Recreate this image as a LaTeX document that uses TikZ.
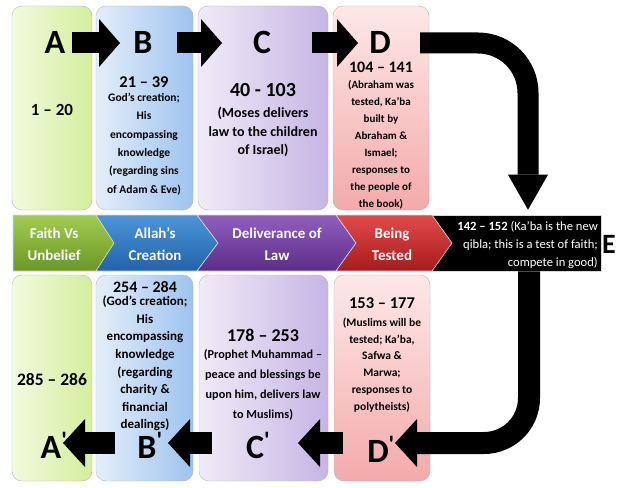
\documentclass[tikz,border=0pt]{standalone}
\usepackage{fontspec}
\setmainfont{Carlito}
\usetikzlibrary{arrows.meta}
\definecolor{greenL}{HTML}{F1FADF}
\definecolor{greenR}{HTML}{D4EE9C}
\definecolor{blueL}{HTML}{E4EEF9}
\definecolor{blueR}{HTML}{9EC3EF}
\definecolor{purpleL}{HTML}{F0EBF7}
\definecolor{purpleR}{HTML}{C6B5E5}
\definecolor{pinkT}{HTML}{FDE8E8}
\definecolor{pinkB}{HTML}{F4AAAA}
\definecolor{gnT}{HTML}{A2CD52}
\definecolor{gnB}{HTML}{6A9625}
\definecolor{blT}{HTML}{4D95D8}
\definecolor{blB}{HTML}{2163AA}
\definecolor{puT}{HTML}{915EBE}
\definecolor{puB}{HTML}{5C2D88}
\definecolor{rdT}{HTML}{E24A4A}
\definecolor{rdB}{HTML}{A61C1C}
\tikzset{
  box/.style={draw=gray!55, rounded corners=10pt, minimum height=#1, inner sep=0pt},
  seg/.style={draw=white!85!black, line width=0.6pt},
  letter/.style={font=\fontsize{34}{34}\selectfont\bfseries, inner sep=0pt,
    text height=22pt, text depth=0pt},
  num/.style={font=\fontsize{#1}{#1}\selectfont\bfseries, inner sep=0pt},
  desc/.style 2 args={font=\fontsize{#1}{#2}\selectfont\bfseries, align=center, inner sep=0pt},
  bandtext/.style={font=\fontsize{15}{22}\selectfont\bfseries, text=white, align=center, inner sep=0pt},
  blk/.style={line width=21pt, -{Triangle[length=21pt, width=48pt, line width=0pt]}},
  blkdown/.style={line width=21pt, -{Triangle[length=35pt, width=40pt, line width=0pt]}},
  blkleft/.style={line width=22pt, -{Triangle[length=22pt, width=48pt, line width=0pt]}},
}
\begin{document}
\begin{tikzpicture}[x=1pt,y=-1pt]
  \useasboundingbox[fill=white] (0,0) rectangle (626,487);
  \node[box=204pt, minimum width=80pt, left color=greenL, right color=greenR] (boxA) at (52,108) {};
  \node[box=204pt, minimum width=97pt, left color=blueL, right color=blueR] (boxB) at (144.5,108) {};
  \node[box=204pt, minimum width=130pt, left color=purpleL, right color=purpleR] (boxC) at (263,108) {};
  \node[box=204pt, minimum width=96pt, top color=pinkT, bottom color=pinkB] (boxD) at (381,108) {};
  \node[box=206pt, minimum width=80pt, left color=greenL, right color=greenR] (boxAp) at (52,378) {};
  \node[box=206pt, minimum width=97pt, left color=blueL, right color=blueR] (boxBp) at (144.5,378) {};
  \node[box=206pt, minimum width=129pt, left color=purpleL, right color=purpleR] (boxCp) at (263.5,378) {};
  \node[box=206pt, minimum width=96pt, top color=pinkT, bottom color=pinkB] (boxDp) at (382,378) {};

  \node[seg, fill=black, minimum width=169pt, minimum height=56pt, inner sep=0pt] (bandE) at (516.5,243) {};
  \path[seg, top color=gnT, bottom color=gnB]
    (13,215) -- (96,215) -- (114,243) -- (96,271) -- (13,271) -- cycle;
  \path[seg, top color=blT, bottom color=blB]
    (96,215) -- (197,215) -- (218,243) -- (197,271) -- (96,271) -- (114,243) -- cycle;
  \path[seg, top color=puT, bottom color=puB]
    (197,215) -- (336,215) -- (356,243) -- (336,271) -- (197,271) -- (218,243) -- cycle;
  \path[seg, top color=rdT, bottom color=rdB]
    (336,215) -- (432,215) -- (452,243) -- (432,271) -- (336,271) -- (356,243) -- cycle;

  \node[bandtext] (tFaith) at (54,244) {Faith Vs\\Unbelief};
  \node[bandtext] (tAllah) at (155,244) {Allah’s\\Creation};
  \node[bandtext] (tLaw) at (277,244) {Deliverance of\\Law};
  \node[bandtext] (tTest) at (392,244) {Being\\Tested};
  \node[font=\fontsize{12.6}{18}\selectfont, text=white, align=right, inner sep=0pt, anchor=east]
    (tE) at (598,245) {\textbf{142 – 152} (Ka’ba is the new\\qibla; this is a test of faith;\\compete in good)};
  \node[letter, font=\fontsize{28}{28}\selectfont\bfseries, text height=18pt] (le) at (609,244) {E};

  \node[num=17] (numA) at (52,110) {1 – 20};
  \node[num=16.5] (numB) at (144,82) {21 – 39};
  \node[desc={11.5}{18.4}] (descB) at (144,144)
    {God’s creation;\\His\\encompassing\\knowledge\\(regarding sins\\of Adam \& Eve)};
  \node[num=20] (numC) at (263,90) {40 - 103};
  \node[desc={14}{18.5}] (descC) at (263,132) {(Moses delivers\\law to the children\\of Israel)};
  \node[num=16] (numD) at (381,67) {104 – 141};
  \node[desc={11}{17}] (descD) at (381,144.5)
    {(Abraham was\\tested, Ka’ba\\built by\\Abraham \&\\Ismael;\\responses to\\the people of\\the book)};

  \node[num=17.5] (numAp) at (52,380) {285 – 286};
  \node[num=16] (numBp) at (145,287) {254 – 284};
  \node[desc={13}{17.6}] (descBp) at (145,363.5)
    {(God’s creation;\\His\\encompassing\\knowledge\\(regarding\\charity \&\\financial\\dealings)};
  \node[num=18] (numCp) at (263,335) {178 – 253};
  \node[desc={12.2}{20}] (descCp) at (263,385)
    {(Prophet Muhammad –\\peace and blessings be\\upon him, delivers law\\to Muslims)};
  \node[num=16.5] (numDp) at (382,303) {153 – 177};
  \node[desc={11.5}{16.8}] (descDp) at (382,365)
    {(Muslims will be\\tested; Ka’ba,\\Safwa \&\\Marwa;\\responses to\\polytheists)};

  \node[letter] (la) at (55,43) {A};
  \node[letter] (lb) at (143,43) {B};
  \node[letter] (lc) at (262,43) {C};
  \node[letter] (ld) at (380,43) {D};
  \node[letter] (lap) at (51,447) {A\rlap{\textsuperscript{\textquotesingle}}};
  \node[letter] (lbp) at (147,447) {B\rlap{\textsuperscript{\textquotesingle}}};
  \node[letter] (lcp) at (255,447) {C\rlap{\textsuperscript{\textquotesingle}}};
  \node[letter] (ldp) at (378,451) {D\rlap{\textsuperscript{\textquotesingle}}};

  \draw[blk] ([xshift=17pt]la.center) -- ([xshift=-23pt]lb.center);
  \draw[blk] ([xshift=34pt]lb.center) -- ([xshift=-40pt]lc.center);
  \draw[blk] ([xshift=50pt]lc.center) -- ([xshift=-22pt]ld.center);
  \draw[blkdown, rounded corners=50pt]
    ([xshift=40pt]ld.center) -| ([xshift=11.5pt,yshift=5pt]bandE.north);
  \draw[blkleft, rounded corners=45pt]
    ([xshift=12.5pt]bandE.south) |- ([xshift=17pt,yshift=8pt]ldp.center);
  \draw[blkleft] ([xshift=-35pt,yshift=8pt]ldp.center) -- ([xshift=43pt,yshift=4pt]lcp.center);
  \draw[blkleft] ([xshift=-43pt,yshift=4pt]lcp.center) -- ([xshift=21pt,yshift=4pt]lbp.center);
  \draw[blkleft] ([xshift=-32pt,yshift=4pt]lbp.center) -- ([xshift=12pt,yshift=4pt]lap.center);
\end{tikzpicture}
\end{document}
